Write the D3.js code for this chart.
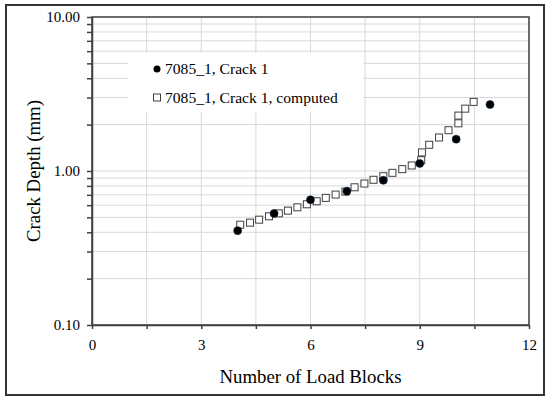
<!DOCTYPE html>
<html>
<head>
<meta charset="utf-8">
<script src="https://cdn.jsdelivr.net/npm/d3@7"></script>
<style>
  body { margin: 0; background: #fff; }
  svg, svg text { font-family: "Liberation Serif", "Times New Roman", serif !important; }
</style>
</head>
<body>
<svg id="chart" width="550" height="402"></svg>
<script>
// measured points
var measBlocks = [4, 5, 6, 7, 8, 9, 10, 10.93];
var measDepth = [0.41, 0.53, 0.65, 0.74, 0.87, 1.12, 1.61, 2.70];

// computed points
var compBlocks = [4.07, 4.34, 4.59, 4.86, 5.13, 5.38, 5.64, 5.90, 6.17, 6.42, 6.69, 6.96, 7.21, 7.48,
                  7.73, 8.0, 8.25, 8.52, 8.78, 9.04, 9.06, 9.26, 9.53, 9.79, 10.06, 10.06, 10.25, 10.48];
var compDepth = [0.448, 0.462, 0.483, 0.508, 0.531, 0.553, 0.581, 0.608, 0.636, 0.669, 0.703, 0.735, 0.784, 0.829,
                 0.877, 0.925, 0.973, 1.028, 1.086, 1.175, 1.32, 1.48, 1.65, 1.84, 2.04, 2.29, 2.54, 2.81];

var xTicks = [0, 1.5, 3, 4.5, 6, 7.5, 9, 10.5, 12];
var xLabels = [0, 3, 6, 9, 12];
var yLabels = [0.1, 1, 10];
var legendNames = ["7085_1, Crack 1", "7085_1, Crack 1, computed"];

var svg = d3.select("#chart");
var dim = { left: 92, right: 529, top: 17, bottom: 325 };
var axisColor = "#404040";
var gridColor = "#d9d9d9";
var serif = "'Liberation Serif', 'Times New Roman', serif";

// outer frame
svg.append("rect")
   .attr("x", 6).attr("y", 5)
   .attr("width", 538).attr("height", 390)
   .attr("fill", "#fff")
   .attr("stroke", "#333")
   .attr("stroke-width", 2);

var xScale = d3.scaleLinear().domain([0, 12]).range([dim.left, dim.right]);
var yScale = d3.scaleLog().domain([0.1, 10]).range([dim.bottom, dim.top]);
var yTicks = yScale.ticks();

// gridlines
var grid = svg.append("g").attr("id", "grid");
grid.selectAll("line.hgrid")
    .data(yTicks)
    .enter()
    .append("line")
    .attr("class", "hgrid")
    .attr("x1", dim.left).attr("x2", dim.right)
    .attr("y1", function(d) { return yScale(d); })
    .attr("y2", function(d) { return yScale(d); })
    .attr("stroke", gridColor)
    .attr("stroke-width", 1);
grid.selectAll("line.vgrid")
    .data(xTicks)
    .enter()
    .append("line")
    .attr("class", "vgrid")
    .attr("y1", dim.top).attr("y2", dim.bottom)
    .attr("x1", function(d) { return xScale(d); })
    .attr("x2", function(d) { return xScale(d); })
    .attr("stroke", gridColor)
    .attr("stroke-width", 1);

// legend background (hides gridlines behind it)
svg.append("rect")
   .attr("x", 128).attr("y", 53)
   .attr("width", 235).attr("height", 59)
   .attr("fill", "#fff");

// plot border
svg.append("rect")
   .attr("x", dim.left).attr("y", dim.top)
   .attr("width", dim.right - dim.left).attr("height", dim.bottom - dim.top)
   .attr("fill", "none")
   .attr("stroke", axisColor)
   .attr("stroke-width", 1.5);

// x axis
var xAxis = d3.axisBottom(xScale)
              .tickValues(xTicks)
              .tickSize(4)
              .tickSizeOuter(0)
              .tickFormat(function(d) { return xLabels.indexOf(d) >= 0 ? d : ""; });
var gx = svg.append("g")
            .attr("transform", "translate(0," + dim.bottom + ")")
            .call(xAxis)
            .attr("font-family", null);
gx.select(".domain").attr("stroke", axisColor).attr("stroke-width", 1.5);
gx.selectAll(".tick line").attr("stroke", axisColor).attr("stroke-width", 1.5);
gx.selectAll(".tick text")
  .style("font-family", serif)
  .style("font-size", "15px")
  .attr("fill", "#000")
  .attr("dy", "1.2em");

// y axis
var yAxis = d3.axisLeft(yScale)
              .tickValues(yTicks)
              .tickSize(5)
              .tickSizeOuter(0)
              .tickFormat(function(d) {
                var hit = yLabels.filter(function(v) { return Math.abs(v - d) < 1e-9; });
                return hit.length ? d3.format(".2f")(d) : "";
              });
var gy = svg.append("g")
            .attr("transform", "translate(" + dim.left + ",0)")
            .call(yAxis)
            .attr("font-family", null);
gy.select(".domain").attr("stroke", axisColor).attr("stroke-width", 1.5);
gy.selectAll(".tick line").attr("stroke", axisColor).attr("stroke-width", 1.5);
gy.selectAll(".tick text")
  .style("font-family", serif)
  .style("font-size", "15px")
  .attr("fill", "#000")
  .attr("x", -12);

// axis titles
svg.append("text")
   .attr("x", (dim.left + dim.right) / 2)
   .attr("y", 383)
   .attr("text-anchor", "middle")
   .style("font-family", serif)
   .style("font-size", "18.8px")
   .text("Number of Load Blocks");
svg.append("text")
   .attr("transform", "translate(40," + ((dim.top + dim.bottom) / 2) + ") rotate(-90)")
   .attr("text-anchor", "middle")
   .style("font-family", serif)
   .style("font-size", "18.8px")
   .text("Crack Depth (mm)");

// computed series
var comp = compBlocks.map(function(b, i) { return { x: b, y: compDepth[i] }; });
var meas = measBlocks.map(function(b, i) { return { x: b, y: measDepth[i] }; });

svg.append("g").selectAll("rect")
   .data(comp)
   .enter()
   .append("rect")
   .attr("x", function(d) { return xScale(d.x) - 3.5; })
   .attr("y", function(d) { return yScale(d.y) - 3.5; })
   .attr("width", 7).attr("height", 7)
   .attr("fill", "#fff")
   .attr("stroke", "#404040")
   .attr("stroke-width", 1);

// measured series
svg.append("g").selectAll("circle")
   .data(meas)
   .enter()
   .append("circle")
   .attr("cx", function(d) { return xScale(d.x); })
   .attr("cy", function(d) { return yScale(d.y); })
   .attr("r", 4)
   .attr("fill", "#000")
   .attr("stroke", "#0b2a4a")
   .attr("stroke-width", 0.6);

// legend
var legend = svg.append("g");
legend.append("circle")
      .attr("cx", 157).attr("cy", 69).attr("r", 3.5)
      .attr("fill", "#000");
legend.append("rect")
      .attr("x", 153.5).attr("y", 94).attr("width", 7).attr("height", 7)
      .attr("fill", "#fff").attr("stroke", "#404040").attr("stroke-width", 1);
legend.selectAll("text")
      .data(legendNames)
      .enter()
      .append("text")
      .attr("x", 165)
      .attr("y", function(d, i) { return 74 + i * 28.5; })
      .style("font-family", serif)
      .style("font-size", "15.6px")
      .text(function(d) { return d; });
</script>
</body>
</html>
